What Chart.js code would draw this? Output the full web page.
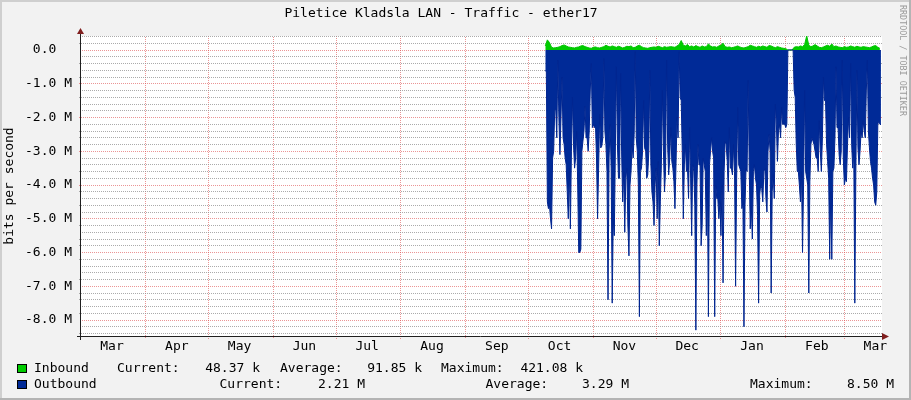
<!DOCTYPE html>
<html><head><meta charset="utf-8">
<script src="https://cdn.jsdelivr.net/npm/chart.js@4.4.1/dist/chart.umd.min.js"></script>
<style>
html,body{margin:0;padding:0;background:#F2F2F2;}
#wrap{position:relative;width:911px;height:400px;overflow:hidden;font-family:'DejaVu Sans Mono',monospace;font-size:13px;color:#000;}
#c{position:absolute;left:0;top:0;}
.t{position:absolute;white-space:pre;line-height:16px;height:16px;}
.sw{position:absolute;width:8px;height:7px;border:1px solid #000;}
#credit{position:absolute;left:898px;top:5px;writing-mode:vertical-rl;font-size:8.4px;line-height:10px;color:#9a9a9a;}
</style></head><body>
<div id="wrap"><canvas id="c" width="911" height="400"></canvas><div id="legend"></div><div id="credit">RRDTOOL / TOBI OETIKER</div></div>
<script>
// ---- data ----
const chartTitle = 'Piletice Kladsla LAN - Traffic - ether17';
const yTitle = 'bits per second';
const monthStarts = [0,31,61,92,122,153,184,214,245,275,306,337,365]; // day index from 1 Mar
const monthLabels = ['Mar','Apr','May','Jun','Jul','Aug','Sep','Oct','Nov','Dec','Jan','Feb','Mar'];
const yMajor = [0,-1,-2,-3,-4,-5,-6,-7,-8]; // Mbit/s
const yMajorLabels = ['0.0  ','-1.0 M','-2.0 M','-3.0 M','-4.0 M','-5.0 M','-6.0 M','-7.0 M','-8.0 M'];
const firstDay = 222; // first day with data (days since 1 Mar)
// Inbound, Mbit/s, one value per day
const inbound = [
0.12,0.30,0.22,0.08,0.06,0.07,0.08,0.10,0.13,0.15,
0.12,0.09,0.08,0.07,0.06,0.08,0.09,0.12,0.13,0.10,
0.08,0.06,0.05,0.08,0.09,0.07,0.06,0.08,0.10,0.14,
0.11,0.09,0.12,0.10,0.08,0.11,0.09,0.06,0.08,0.11,
0.10,0.12,0.07,0.08,0.12,0.14,0.10,0.07,0.06,0.05,
0.07,0.08,0.09,0.08,0.11,0.09,0.07,0.10,0.08,0.09,
0.10,0.09,0.08,0.12,0.16,0.28,0.14,0.12,0.16,0.10,
0.12,0.09,0.13,0.10,0.08,0.12,0.09,0.10,0.18,0.12,
0.09,0.10,0.08,0.12,0.14,0.20,0.10,0.08,0.09,0.07,
0.08,0.10,0.12,0.09,0.07,0.06,0.08,0.10,0.14,0.12,
0.10,0.08,0.11,0.09,0.12,0.10,0.08,0.13,0.12,0.09,
0.07,0.10,0.08,0.06,0.05,0.04,0,0,0,0.08,
0.10,0.09,0.12,0.10,0.16,0.421,0.14,0.10,0.12,0.16,
0.12,0.08,0.07,0.09,0.12,0.14,0.11,0.18,0.10,0.12,
0.09,0.08,0.07,0.10,0.08,0.09,0.12,0.10,0.08,0.11,
0.09,0.08,0.10,0.09,0.08,0.07,0.09,0.12,0.13,0.08,
0.048
];
// Outbound, Mbit/s (drawn below zero), two values per day (half-day samples)
const outbound = [
0.6,0.65, 4.5,4.7, 4.6,5.0, 5.3,3.2, 3.0,1.8, 1.76,2.6, 0.3,2.0, 3.1,2.0, 0.8,2.6, 2.8,3.2,
3.4,4.2, 5.0,3.5, 5.3,3.0, 1.4,2.8, 3.5,3.2, 2.4,4.0, 6.0,6.0, 5.9,3.0, 2.7,2.4, 1.66,2.6,
2.6,3.0, 2.4,1.2, 0.4,2.3, 2.2,2.3, 2.2,3.2, 5.0,3.5, 1.9,2.9, 2.85,2.6, 0.25,2.4, 2.8,3.6,
7.4,3.2, 2.2,3.5, 7.5,5.0, 5.5,3.0, 0.5,2.8, 3.8,3.8, 0.7,3.0, 4.5,3.6, 5.4,3.8, 3.5,5.2,
6.1,4.0, 3.6,2.8, 3.2,2.5, 0.05,2.6, 3.0,4.0, 7.9,3.6, 3.5,3.0, 1.5,2.9, 3.0,3.8, 3.7,3.0,
0.6,3.4, 4.2,4.5, 5.2,4.0, 3.5,5.0, 3.3,5.8, 4.5,3.4, 1.2,3.0, 4.2,3.6, 0.3,2.8, 3.7,3.2,
2.3,3.3, 3.5,3.9, 4.7,3.4, 2.0,2.6, 0.05,1.4, 1.5,3.0, 5.0,3.4, 2.8,3.6, 3.5,4.4, 2.3,3.8,
5.5,3.4, 3.6,4.6, 8.3,4.0, 2.8,3.4, 3.4,5.8, 5.2,3.2, 3.4,3.6, 5.5,3.8, 7.9,3.4, 3.0,2.6,
3.0,3.2, 7.9,4.0, 4.4,4.4, 5.0,4.5, 5.5,4.0, 6.9,3.6, 2.7,2.8, 3.3,4.2, 2.3,3.5, 3.5,3.7,
2.8,3.6, 7.0,3.8, 1.7,3.4, 3.5,3.6, 4.7,4.5, 8.2,4.6, 3.5,3.6, 0.9,3.4, 5.3,4.6, 5.6,3.6,
3.4,3.8, 4.0,4.9, 7.5,4.3, 4.0,4.1, 4.5,3.6, 3.5,4.4, 4.8,3.0, 2.5,3.0, 7.2,4.2, 3.7,4.4,
1.6,2.2, 3.3,2.4, 2.2,2.6, 1.7,2.2, 2.2,2.2, 2.3,2.2, 0,0, 0,0, 0,0, 1.2,1.4,
2.8,3.6, 3.6,4.0, 4.5,3.6, 6.0,4.0, 1.2,3.6, 3.8,4.0, 7.2,3.9, 2.8,2.6, 2.7,2.8, 3.0,3.2,
3.2,3.6, 2.1,3.0, 3.6,2.6, 0.8,1.5, 1.5,2.8, 3.3,3.8, 6.2,4.2, 6.2,3.6, 3.5,2.6, 0.5,2.3,
2.3,3.1, 3.4,3.0, 0.3,3.2, 4.0,3.8, 3.9,2.8, 2.0,2.6, 0.4,2.8, 3.5,3.0, 7.5,3.6, 0.6,2.9,
3.4,3.0, 2.4,2.6, 2.1,2.4, 2.6,1.2, 0.3,2.4, 2.9,3.3, 3.5,3.8, 4.0,4.5, 4.6,4.2, 2.2,2.1,
2.2,2.21
];
const seriesNames = ['Inbound','Outbound'];
const seriesColors = ['#00CC00','#002A97'];
const statLabels = ['Current:','Average:','Maximum:'];
const inboundStats = ['48.37 k','91.85 k','421.08 k'];
const outboundStats = ['2.21 M','3.29 M','8.50 M'];

// ---- styles ----
const F = 'DejaVu Sans Mono';
function dotted(color) {
  const p = document.createElement('canvas'); p.width = 2; p.height = 2;
  const g = p.getContext('2d'); g.fillStyle = color; g.fillRect(0, 0, 1, 1); g.fillRect(1, 1, 1, 1);
  return document.getElementById('c').getContext('2d').createPattern(p, 'repeat');
}
const GRID = dotted('rgba(143,143,143,0.75)');
const MGRID = dotted('rgba(222,79,79,0.6)');
const isMajor = v => yMajor.some(m => Math.abs(m - v) < 1e-6);

const bgPlugin = {
  id: 'rrdbg',
  beforeDraw(chart) {
    const c = chart.ctx, a = chart.chartArea, W = chart.width, H = chart.height;
    c.save();
    c.fillStyle = '#F2F2F2'; c.fillRect(0, 0, W, H);
    c.fillStyle = '#CFCFCF'; c.fillRect(0, 0, W, 2); c.fillRect(0, 0, 2, H);
    c.fillStyle = '#B4B4B4'; c.fillRect(0, H - 2, W, 2); c.fillRect(W - 2, 0, 2, H);
    c.fillStyle = '#FFFFFF'; c.fillRect(a.left, a.top, a.right - a.left, a.bottom - a.top);
    c.restore();
  },
  afterDraw(chart) {
    const c = chart.ctx, a = chart.chartArea;
    c.save();
    c.strokeStyle = '#1F1F1F'; c.lineWidth = 1;
    c.beginPath();
    c.moveTo(a.left - 4, a.bottom + 0.5); c.lineTo(a.right + 2, a.bottom + 0.5);
    c.moveTo(a.left - 0.5, a.bottom + 4); c.lineTo(a.left - 0.5, a.top - 3);
    c.stroke();
    c.fillStyle = '#801F1F';
    c.beginPath();
    c.moveTo(a.right, a.bottom - 3); c.lineTo(a.right + 7, a.bottom + 0.5); c.lineTo(a.right, a.bottom + 4); c.closePath(); c.fill();
    c.beginPath();
    c.moveTo(a.left - 4, a.top - 2); c.lineTo(a.left - 0.5, a.top - 8); c.lineTo(a.left + 3, a.top - 2); c.closePath(); c.fill();
    c.restore();
  }
};

const inDays = inbound.map((_, i) => firstDay + i);
const outDays = outbound.map((_, i) => firstDay + i / 2);

new Chart(document.getElementById('c'), {
  type: 'line',
  data: {
    datasets: [
      { label: seriesNames[1], data: outDays.map((d, i) => ({ x: d, y: -outbound[i] })),
        fill: 'origin', backgroundColor: seriesColors[1], borderColor: '#002590', borderWidth: 1,
        pointRadius: 0, tension: 0, order: 0 },
      { label: seriesNames[0], data: inDays.map((d, i) => ({ x: d, y: inbound[i] })),
        fill: 'origin', backgroundColor: seriesColors[0], borderColor: '#00C400', borderWidth: 1,
        pointRadius: 0, tension: 0, order: 1 }
    ]
  },
  options: {
    responsive: false, animation: false, devicePixelRatio: 1,
    layout: { padding: { top: 4, right: 29, bottom: 44, left: 0 } },
    plugins: {
      legend: { display: false }, tooltip: { enabled: false },
      title: { display: true, text: chartTitle, color: '#000',
        font: { family: F, size: 13, weight: 'normal' }, padding: { top: 2, bottom: 14.4 } }
    },
    scales: {
      x: {
        type: 'linear', min: 0, max: 383, z: 1,
        afterBuildTicks: s => { s.ticks = monthStarts.map(v => ({ value: v })); },
        afterFit: s => { s.height = 20; },
        ticks: { autoSkip: false, maxRotation: 0, minRotation: 0, labelOffset: 31, padding: 0,
          color: '#000', font: { family: F, size: 13 }, callback: (v, i) => monthLabels[i] },
        grid: { color: c => (c.index === 0 ? 'rgba(0,0,0,0)' : MGRID), lineWidth: 1, tickLength: 3 },
        border: { display: false }
      },
      y: {
        type: 'linear', min: -8.474, max: 0.415, z: 1,
        afterBuildTicks: s => { const t = []; for (let k = -42; k <= 2; k++) t.push({ value: k / 5 }); s.ticks = t; },
        afterFit: s => { s.width = 81; },
        ticks: { autoSkip: false, padding: 7, color: '#000', font: { family: F, size: 13 },
          callback: v => { const i = yMajor.findIndex(m => Math.abs(m - v) < 1e-6); return i >= 0 ? yMajorLabels[i] : ''; } },
        grid: { color: c => (isMajor(c.tick.value) ? MGRID : GRID), lineWidth: 1, tickLength: 2 },
        border: { display: false },
        title: { display: true, text: yTitle, color: '#000', font: { family: F, size: 13 }, padding: { top: 2, bottom: 0 } }
      }
    }
  },
  plugins: [bgPlugin]
});

// ---- legend (HTML text) ----
const legendRows = [
  { name: seriesNames[0], color: seriesColors[0], stats: inboundStats, top: 360, sw: 364,
    labelX: [117, 280, 441], valueEnd: [260, 422, 583] },
  { name: seriesNames[1], color: seriesColors[1], stats: outboundStats, top: 376, sw: 380,
    labelX: [219.5, 485.5, 750], valueEnd: [365, 629, 894] }
];
const lg = document.getElementById('legend');
legendRows.forEach(r => {
  const sw = document.createElement('div'); sw.className = 'sw';
  sw.style.left = '17px'; sw.style.top = r.sw + 'px'; sw.style.background = r.color; lg.appendChild(sw);
  const n = document.createElement('div'); n.className = 't'; n.textContent = r.name;
  n.style.left = '34px'; n.style.top = r.top + 'px'; lg.appendChild(n);
  statLabels.forEach((s, i) => {
    const l = document.createElement('div'); l.className = 't'; l.textContent = s;
    l.style.left = r.labelX[i] + 'px'; l.style.top = r.top + 'px'; lg.appendChild(l);
    const v = document.createElement('div'); v.className = 't'; v.textContent = r.stats[i];
    v.style.right = (911 - r.valueEnd[i]) + 'px'; v.style.top = r.top + 'px'; lg.appendChild(v);
  });
});
</script>
</body></html>
